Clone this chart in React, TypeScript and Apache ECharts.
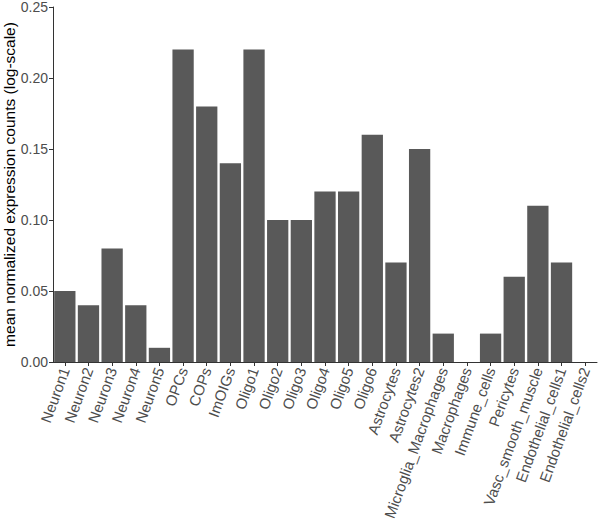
import React, { useEffect, useRef } from "react";
import * as echarts from "echarts";

const categories = [
  "Neuron1", "Neuron2", "Neuron3", "Neuron4", "Neuron5", "OPCs", "COPs", "ImOIGs",
  "Oligo1", "Oligo2", "Oligo3", "Oligo4", "Oligo5", "Oligo6", "Astrocytes", "Astrocytes2",
  "Microglia_Macrophages", "Macrophages", "Immune_cells", "Pericytes", "Vasc_smooth_muscle",
  "Endothelial_cells1", "Endothelial_cells2",
];
const values = [
  0.05, 0.04, 0.08, 0.04, 0.01, 0.22, 0.18, 0.14,
  0.22, 0.10, 0.10, 0.12, 0.12, 0.16, 0.07, 0.15,
  0.02, 0, 0.02, 0.06, 0.11,
  0.07, 0,
];
const yTicks = { min: 0, max: 0.25, interval: 0.05 };
const yTitle = "mean normalized expression counts (log-scale)";

export default function App() {
  const ref = useRef<HTMLDivElement>(null);
  useEffect(() => {
    document.body.style.margin = "0";
    if (!ref.current) return;
    const chart = echarts.init(ref.current, undefined, { renderer: "svg" });
    const font = "Liberation Sans, Arial, Helvetica, sans-serif";
    chart.setOption({
      animation: false,
      backgroundColor: "#ffffff",
      grid: { left: 53, right: 3, top: 7, bottom: 161, containLabel: false, outerBoundsMode: "none" },
      xAxis: {
        type: "category",
        data: categories,
        boundaryGap: true,
        axisLine: { show: true, lineStyle: { color: "#333333", width: 1 } },
        axisTick: { show: true, alignWithLabel: true, length: 4, lineStyle: { color: "#333333" } },
        axisLabel: {
          interval: 0,
          rotate: 70,
          color: "#4d4d4d",
          fontSize: 15,
          fontFamily: font,
          margin: 6,
        },
        splitLine: { show: false },
      },
      yAxis: {
        type: "value",
        min: yTicks.min,
        max: yTicks.max,
        interval: yTicks.interval,
        name: yTitle,
        nameLocation: "middle",
        nameGap: 36,
        nameMoveOverlap: false,
        nameTextStyle: { color: "#000000", fontSize: 15.5, fontFamily: font },
        axisLine: { show: true, lineStyle: { color: "#333333", width: 1 } },
        axisTick: { show: true, length: 4, lineStyle: { color: "#333333" } },
        axisLabel: {
          color: "#4d4d4d",
          fontSize: 14,
          fontFamily: font,
          margin: 5,
          formatter: (v: number) => v.toFixed(2),
        },
        splitLine: { show: false },
      },
      series: [
        {
          type: "bar",
          data: values,
          barCategoryGap: "10%",
          itemStyle: { color: "#595959" },
        },
      ],
    });
    return () => chart.dispose();
  }, []);
  return <div ref={ref} style={{ width: 600, height: 523 }} />;
}
